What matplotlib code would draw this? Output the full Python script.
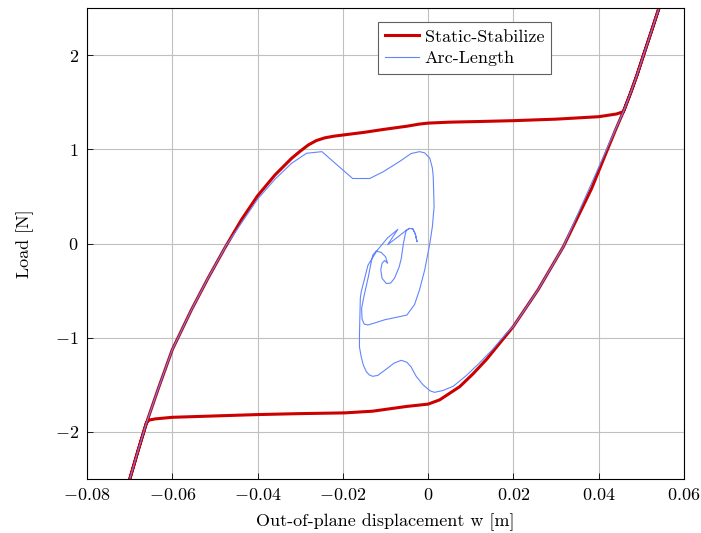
import numpy as np
import matplotlib
matplotlib.use("Agg")
import matplotlib.pyplot as plt

plt.rcParams["font.family"] = "serif"
plt.rcParams["font.serif"] = ["cmr10", "DejaVu Serif"]
plt.rcParams["mathtext.fontset"] = "cm"
plt.rcParams["axes.formatter.use_mathtext"] = True
plt.rcParams["font.size"] = 13

# -----------------------------------------------------------------
# dados (w em m, carga em N)
# -----------------------------------------------------------------
# Static-Stabilize: ramo de carga (esq -> topo dir) e volta (topo dir -> baixo esq)
red_w = [-0.0715, -0.0700, -0.0681, -0.0661, -0.0632, -0.0600, -0.0555, -0.0516,
         -0.0477, -0.0438, -0.0400, -0.0359, -0.0320, -0.0300, -0.0281, -0.0262,
         -0.0242, -0.0220, -0.0199, -0.0150, -0.0106, -0.0050, -0.0020, 0.0000,
         0.0050, 0.0120, 0.0200, 0.0300, 0.0400, 0.0442, 0.0458,
         0.0475, 0.0490, 0.0503, 0.0522, 0.0540, 0.0550,
         0.0540, 0.0522, 0.0503, 0.0490, 0.0475, 0.0458, 0.0439, 0.0419, 0.0383,
         0.0317, 0.0258, 0.0200, 0.0137, 0.0105, 0.0074, 0.0027, 0.0000, -0.0051,
         -0.0130, -0.0195, -0.0302, -0.0400, -0.0600, -0.0640, -0.0655, -0.0661,
         -0.0681, -0.0700, -0.0715]
red_p = [-2.70, -2.506, -2.21, -1.91, -1.53, -1.127, -0.703, -0.367,
         -0.049, 0.251, 0.506, 0.728, 0.905, 0.98, 1.046, 1.093,
         1.122, 1.140, 1.152, 1.18, 1.21, 1.245, 1.268, 1.278,
         1.288, 1.295, 1.304, 1.32, 1.346, 1.375, 1.40,
         1.60, 1.79, 1.97, 2.23, 2.48, 2.62,
         2.48, 2.23, 1.97, 1.79, 1.60, 1.40, 1.20, 0.98, 0.58,
         -0.035, -0.49, -0.88, -1.23, -1.385, -1.52, -1.66, -1.705, -1.73,
         -1.78, -1.798, -1.806, -1.816, -1.845, -1.862, -1.875, -1.91,
         -2.21, -2.506, -2.70]

# Arc-Length: caminho com o loop/espiral no meio
arc_w = [-0.0715, -0.0700, -0.0681, -0.0661, -0.0632, -0.0600, -0.0555, -0.0516,
         -0.0477, -0.0475, -0.0438, -0.0400, -0.0359, -0.0320, -0.0285, -0.0249,
         -0.0215, -0.0177, -0.0137, -0.0106, -0.0067, -0.0040, -0.0020, -0.0008,
         0.0004, 0.0010, 0.0012, 0.0014, 0.0010, 0.0004, -0.0008, -0.0020,
         -0.0032, -0.0050, -0.0102, -0.0130, -0.0141, -0.0150, -0.0155, -0.0156,
         -0.0150, -0.0140, -0.0135, -0.0130, -0.0122, -0.0110, -0.0100, -0.0095,
         -0.0102, -0.0108, -0.0111, -0.0108, -0.0098, -0.0088, -0.0079, -0.0068,
         -0.0063, -0.0058, -0.0053, -0.0051, -0.0044, -0.0036, -0.0030, -0.0026,
         -0.0030, -0.0036, -0.0044, -0.0051, -0.0095, -0.0071, -0.0095, -0.0119,
         -0.0141, -0.0157, -0.0159, -0.0161, -0.0161, -0.0157, -0.0152, -0.0145,
         -0.0138, -0.0130, -0.0118, -0.0100, -0.0080, -0.0063, -0.0050, -0.0040,
         -0.0028, -0.0012, 0.0005, 0.0015, 0.0035, 0.0059, 0.0090, 0.0120,
         0.0150, 0.0184, 0.0200, 0.0258, 0.0317, 0.0458, 0.0475, 0.0490,
         0.0503, 0.0522, 0.0540, 0.0550]
arc_p = [-2.70, -2.506, -2.21, -1.91, -1.53, -1.127, -0.703, -0.367,
         -0.049, -0.03, 0.216, 0.47, 0.683, 0.852, 0.958, 0.975,
         0.84, 0.69, 0.69, 0.76, 0.87, 0.955, 0.975, 0.962,
         0.905, 0.80, 0.71, 0.39, 0.18, 0.00, -0.28, -0.49,
         -0.65, -0.76, -0.81, -0.85, -0.865, -0.855, -0.80, -0.69,
         -0.55, -0.35, -0.23, -0.125, -0.08, -0.095, -0.14, -0.21,
         -0.18, -0.21, -0.28, -0.37, -0.425, -0.42, -0.37, -0.25,
         -0.16, 0.00, 0.11, 0.14, 0.16, 0.157, 0.10, 0.02,
         0.10, 0.157, 0.16, 0.14, -0.013, 0.15, 0.06, -0.07,
         -0.23, -0.515, -0.58, -0.97, -1.10, -1.20, -1.29, -1.36,
         -1.395, -1.41, -1.40, -1.34, -1.27, -1.24, -1.26, -1.31,
         -1.41, -1.50, -1.565, -1.58, -1.56, -1.515, -1.40, -1.27,
         -1.13, -0.95, -0.88, -0.49, -0.035, 1.40, 1.60, 1.79,
         1.97, 2.23, 2.48, 2.62]

xticks = [-0.08, -0.06, -0.04, -0.02, 0.0, 0.02, 0.04, 0.06]
yticks = [-2, -1, 0, 1, 2]

# -----------------------------------------------------------------
# grafico
# -----------------------------------------------------------------
fig = plt.figure(figsize=(7.01, 5.33), dpi=100)
ax = fig.add_axes([0.1241, 0.1013, 0.8516, 0.8837])

ax.plot(red_w, red_p, color="#cc0000", lw=2.2, label="Static-Stabilize",
        solid_joinstyle="round")
ax.plot(arc_w, arc_p, color="#6285ff", lw=0.8, label="Arc-Length",
        solid_joinstyle="round")

ax.set_xlim(-0.08, 0.06)
ax.set_ylim(-2.5, 2.5)
ax.set_xticks(xticks)
ax.set_yticks(yticks)
ax.set_xticklabels([f"${v:g}$" for v in xticks])
ax.set_yticklabels([f"${v:g}$" for v in yticks])
ax.grid(True, color="#c0c0c0", lw=0.8)
ax.set_axisbelow(True)
ax.tick_params(direction="in", length=4, width=0.6, labelsize=13, pad=6)
for s in ax.spines.values():
    s.set_linewidth(0.8)

ax.set_xlabel("Out-of-plane displacement w [m]", fontsize=13, labelpad=7.5)
ax.set_ylabel("Load [N]", fontsize=13, labelpad=15)

leg = ax.legend(loc="upper right", bbox_to_anchor=(0.778, 0.971),
                borderaxespad=0, fontsize=13,
                fancybox=False, edgecolor="#606060", framealpha=1,
                borderpad=0.4, labelspacing=0.35, handlelength=1.9,
                handletextpad=0.3)
leg.get_frame().set_linewidth(0.8)

fig.savefig("out.png", dpi=100)
